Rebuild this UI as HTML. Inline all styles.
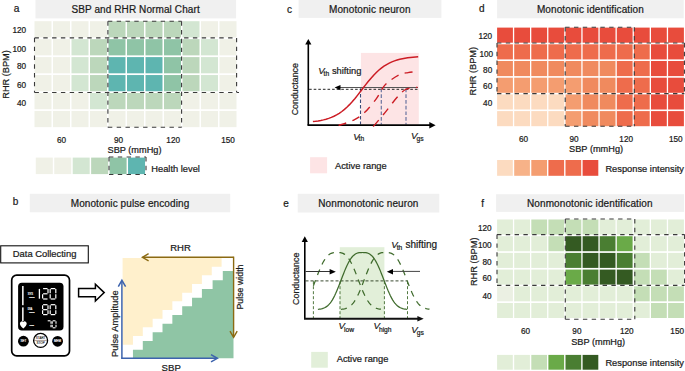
<!DOCTYPE html>
<html><head><meta charset="utf-8"><style>
html,body{margin:0;padding:0;background:#fff;}
body{width:685px;height:371px;overflow:hidden;}
svg{display:block;font-family:"Liberation Sans", sans-serif;}
text{stroke:#1a1a1a;stroke-width:0.22px;}
text.w{stroke:#fff;stroke-width:0.15px;}
</style></head><body>
<svg width="685" height="371" viewBox="0 0 685 371">
<rect width="685" height="371" fill="#fff"/>
<text x="13.80" y="11.70" font-size="10.2" text-anchor="start" fill="#1a1a1a" >a</text>
<rect x="35.50" y="0.00" width="200.60" height="18.40" fill="#f0f0f0" />
<text x="135.60" y="12.70" font-size="10" text-anchor="middle" fill="#1a1a1a" letter-spacing="0.1">SBP and RHR Normal Chart</text>
<rect x="34.50" y="21.20" width="17.00" height="16.20" fill="#f0f1e7" />
<rect x="53.00" y="21.20" width="17.00" height="16.20" fill="#f0f1e7" />
<rect x="71.50" y="21.20" width="17.00" height="16.20" fill="#f0f1e7" />
<rect x="90.00" y="21.20" width="17.00" height="16.20" fill="#f0f1e7" />
<rect x="108.50" y="21.20" width="17.00" height="16.20" fill="#bcd7bb" />
<rect x="127.00" y="21.20" width="17.00" height="16.20" fill="#bcd7bb" />
<rect x="145.50" y="21.20" width="17.00" height="16.20" fill="#bcd7bb" />
<rect x="164.00" y="21.20" width="17.00" height="16.20" fill="#bcd7bb" />
<rect x="182.50" y="21.20" width="17.00" height="16.20" fill="#d3e6d2" />
<rect x="201.00" y="21.20" width="17.00" height="16.20" fill="#f0f1e7" />
<rect x="219.50" y="21.20" width="17.00" height="16.20" fill="#f0f1e7" />
<rect x="34.50" y="39.15" width="17.00" height="16.20" fill="#f0f1e7" />
<rect x="53.00" y="39.15" width="17.00" height="16.20" fill="#f0f1e7" />
<rect x="71.50" y="39.15" width="17.00" height="16.20" fill="#d3e6d2" />
<rect x="90.00" y="39.15" width="17.00" height="16.20" fill="#bcd7bb" />
<rect x="108.50" y="39.15" width="17.00" height="16.20" fill="#8fc4a6" />
<rect x="127.00" y="39.15" width="17.00" height="16.20" fill="#8fc4a6" />
<rect x="145.50" y="39.15" width="17.00" height="16.20" fill="#8fc4a6" />
<rect x="164.00" y="39.15" width="17.00" height="16.20" fill="#8fc4a6" />
<rect x="182.50" y="39.15" width="17.00" height="16.20" fill="#bcd7bb" />
<rect x="201.00" y="39.15" width="17.00" height="16.20" fill="#d3e6d2" />
<rect x="219.50" y="39.15" width="17.00" height="16.20" fill="#f0f1e7" />
<rect x="34.50" y="57.10" width="17.00" height="16.20" fill="#f0f1e7" />
<rect x="53.00" y="57.10" width="17.00" height="16.20" fill="#f0f1e7" />
<rect x="71.50" y="57.10" width="17.00" height="16.20" fill="#d3e6d2" />
<rect x="90.00" y="57.10" width="17.00" height="16.20" fill="#bcd7bb" />
<rect x="108.50" y="57.10" width="17.00" height="16.20" fill="#5eb5b0" />
<rect x="127.00" y="57.10" width="17.00" height="16.20" fill="#5eb5b0" />
<rect x="145.50" y="57.10" width="17.00" height="16.20" fill="#5eb5b0" />
<rect x="164.00" y="57.10" width="17.00" height="16.20" fill="#8fc4a6" />
<rect x="182.50" y="57.10" width="17.00" height="16.20" fill="#bcd7bb" />
<rect x="201.00" y="57.10" width="17.00" height="16.20" fill="#d3e6d2" />
<rect x="219.50" y="57.10" width="17.00" height="16.20" fill="#f0f1e7" />
<rect x="34.50" y="75.05" width="17.00" height="16.20" fill="#f0f1e7" />
<rect x="53.00" y="75.05" width="17.00" height="16.20" fill="#f0f1e7" />
<rect x="71.50" y="75.05" width="17.00" height="16.20" fill="#d3e6d2" />
<rect x="90.00" y="75.05" width="17.00" height="16.20" fill="#bcd7bb" />
<rect x="108.50" y="75.05" width="17.00" height="16.20" fill="#5eb5b0" />
<rect x="127.00" y="75.05" width="17.00" height="16.20" fill="#5eb5b0" />
<rect x="145.50" y="75.05" width="17.00" height="16.20" fill="#5eb5b0" />
<rect x="164.00" y="75.05" width="17.00" height="16.20" fill="#8fc4a6" />
<rect x="182.50" y="75.05" width="17.00" height="16.20" fill="#bcd7bb" />
<rect x="201.00" y="75.05" width="17.00" height="16.20" fill="#d3e6d2" />
<rect x="219.50" y="75.05" width="17.00" height="16.20" fill="#f0f1e7" />
<rect x="34.50" y="93.00" width="17.00" height="16.20" fill="#f0f1e7" />
<rect x="53.00" y="93.00" width="17.00" height="16.20" fill="#f0f1e7" />
<rect x="71.50" y="93.00" width="17.00" height="16.20" fill="#f0f1e7" />
<rect x="90.00" y="93.00" width="17.00" height="16.20" fill="#d3e6d2" />
<rect x="108.50" y="93.00" width="17.00" height="16.20" fill="#bcd7bb" />
<rect x="127.00" y="93.00" width="17.00" height="16.20" fill="#bcd7bb" />
<rect x="145.50" y="93.00" width="17.00" height="16.20" fill="#bcd7bb" />
<rect x="164.00" y="93.00" width="17.00" height="16.20" fill="#bcd7bb" />
<rect x="182.50" y="93.00" width="17.00" height="16.20" fill="#f0f1e7" />
<rect x="201.00" y="93.00" width="17.00" height="16.20" fill="#f0f1e7" />
<rect x="219.50" y="93.00" width="17.00" height="16.20" fill="#f0f1e7" />
<rect x="34.50" y="110.95" width="17.00" height="16.20" fill="#f0f1e7" />
<rect x="53.00" y="110.95" width="17.00" height="16.20" fill="#f0f1e7" />
<rect x="71.50" y="110.95" width="17.00" height="16.20" fill="#f0f1e7" />
<rect x="90.00" y="110.95" width="17.00" height="16.20" fill="#f0f1e7" />
<rect x="108.50" y="110.95" width="17.00" height="16.20" fill="#f0f1e7" />
<rect x="127.00" y="110.95" width="17.00" height="16.20" fill="#f0f1e7" />
<rect x="145.50" y="110.95" width="17.00" height="16.20" fill="#f0f1e7" />
<rect x="164.00" y="110.95" width="17.00" height="16.20" fill="#f0f1e7" />
<rect x="182.50" y="110.95" width="17.00" height="16.20" fill="#f0f1e7" />
<rect x="201.00" y="110.95" width="17.00" height="16.20" fill="#f0f1e7" />
<rect x="219.50" y="110.95" width="17.00" height="16.20" fill="#f0f1e7" />
<line x1="34.50" y1="37.90" x2="236.60" y2="37.90" stroke="#3a3a3a" stroke-width="1.1" stroke-dasharray="4.4 4.4"/>
<line x1="34.50" y1="37.90" x2="34.50" y2="92.50" stroke="#3a3a3a" stroke-width="1.1" stroke-dasharray="4.4 4.4"/>
<line x1="236.60" y1="37.90" x2="236.60" y2="92.50" stroke="#3a3a3a" stroke-width="1.1" stroke-dasharray="4.4 4.4"/>
<line x1="34.50" y1="92.50" x2="239.00" y2="92.50" stroke="#3a3a3a" stroke-width="1.1" stroke-dasharray="4.4 4.4"/>
<line x1="107.90" y1="21.25" x2="181.60" y2="21.25" stroke="#3a3a3a" stroke-width="1.1" stroke-dasharray="4.4 4.4"/>
<line x1="107.90" y1="21.25" x2="107.90" y2="127.30" stroke="#3a3a3a" stroke-width="1.1" stroke-dasharray="4.4 4.4"/>
<line x1="181.60" y1="21.25" x2="181.60" y2="127.30" stroke="#3a3a3a" stroke-width="1.1" stroke-dasharray="4.4 4.4"/>
<line x1="107.90" y1="127.30" x2="181.60" y2="127.30" stroke="#3a3a3a" stroke-width="1.1" stroke-dasharray="4.4 4.4"/>
<text x="26.10" y="32.75" font-size="8.2" text-anchor="end" fill="#1a1a1a" >120</text>
<text x="26.10" y="51.55" font-size="8.2" text-anchor="end" fill="#1a1a1a" >100</text>
<text x="26.10" y="69.05" font-size="8.2" text-anchor="end" fill="#1a1a1a" >80</text>
<text x="26.10" y="87.95" font-size="8.2" text-anchor="end" fill="#1a1a1a" >60</text>
<text x="26.10" y="106.25" font-size="8.2" text-anchor="end" fill="#1a1a1a" >40</text>
<text transform="translate(9.0,74.4) rotate(-90)" font-size="9.2" text-anchor="middle" fill="#1a1a1a">RHR (BPM)</text>
<text x="61.50" y="142.65" font-size="8.2" text-anchor="middle" fill="#1a1a1a" >60</text>
<text x="118.50" y="142.65" font-size="8.2" text-anchor="middle" fill="#1a1a1a" >90</text>
<text x="173.20" y="142.65" font-size="8.2" text-anchor="middle" fill="#1a1a1a" >120</text>
<text x="228.00" y="142.65" font-size="8.2" text-anchor="middle" fill="#1a1a1a" >150</text>
<text x="134.50" y="152.50" font-size="9.2" text-anchor="middle" fill="#1a1a1a" >SBP (mmHg)</text>
<rect x="35.80" y="157.60" width="17.00" height="16.50" fill="#f0f1e7" />
<rect x="54.25" y="157.60" width="17.00" height="16.50" fill="#f0f1e7" />
<rect x="72.70" y="157.60" width="17.00" height="16.50" fill="#d3e6d2" />
<rect x="91.15" y="157.60" width="17.00" height="16.50" fill="#bcd7bb" />
<rect x="109.60" y="157.60" width="17.00" height="16.50" fill="#8fc4a6" />
<rect x="128.05" y="157.60" width="17.00" height="16.50" fill="#5eb5b0" />
<line x1="109.00" y1="157.00" x2="146.00" y2="157.00" stroke="#3a3a3a" stroke-width="1.1" stroke-dasharray="4.4 4.4"/>
<line x1="109.00" y1="157.00" x2="109.00" y2="174.50" stroke="#3a3a3a" stroke-width="1.1" stroke-dasharray="4.4 4.4"/>
<line x1="146.00" y1="157.00" x2="146.00" y2="174.50" stroke="#3a3a3a" stroke-width="1.1" stroke-dasharray="4.4 4.4"/>
<line x1="109.00" y1="174.50" x2="146.00" y2="174.50" stroke="#3a3a3a" stroke-width="1.1" stroke-dasharray="4.4 4.4"/>
<text x="151.30" y="172.20" font-size="9.3" text-anchor="start" fill="#1a1a1a" >Health level</text>
<text x="12.70" y="205.30" font-size="10" text-anchor="start" fill="#1a1a1a" >b</text>
<rect x="29.80" y="193.80" width="200.40" height="18.50" fill="#f0f0f0" />
<text x="130.00" y="206.50" font-size="10" text-anchor="middle" fill="#1a1a1a" letter-spacing="0.1">Monotonic pulse encoding</text>
<rect x="0.7" y="245.8" width="87.6" height="17.1" fill="#fff" stroke="#111" stroke-width="1.1"/>
<text x="44.60" y="257.30" font-size="9.4" text-anchor="middle" fill="#1a1a1a" >Data Collecting</text>
<rect x="11.7" y="275.2" width="57.8" height="80.7" rx="5" fill="#fff" stroke="#000" stroke-width="1.7"/>
<rect x="18.1" y="282.8" width="45.4" height="47.8" rx="3.8" fill="#000"/>
<rect x="22.10" y="286.00" width="1.50" height="19.20" fill="#fff" />
<rect x="22.10" y="307.40" width="1.50" height="13.60" fill="#fff" />
<path d="M23.3,328.4 C21.2,326.8 19.9,325.5 19.9,323.6 C19.9,322.1 21.0,321.2 22.1,321.2 C22.7,321.2 23.1,321.6 23.3,322.1 C23.5,321.6 23.9,321.2 24.5,321.2 C25.6,321.2 26.7,322.1 26.7,323.6 C26.7,325.5 25.4,326.8 23.3,328.4 Z" fill="#fff"/>
<text x="27.8" y="294.8" font-size="2.6" fill="#fff" class="w">SYS</text>
<text x="29.3" y="297.6" font-size="1.8" fill="#fff" class="w">mmHg</text>
<text x="27.8" y="310.0" font-size="2.6" fill="#fff" class="w">DIA</text>
<text x="29.3" y="312.8" font-size="1.8" fill="#fff" class="w">mmHg</text>
<text x="29.5" y="325.5" font-size="1.8" fill="#fff" class="w">Pulse</text>
<line x1="39.40" y1="288.90" x2="39.40" y2="298.70" stroke="#fff" stroke-width="1.3"/>
<line x1="43.10" y1="288.60" x2="47.50" y2="288.60" stroke="#fff" stroke-width="1.2" stroke-linecap="butt"/>
<line x1="48.00" y1="289.10" x2="48.00" y2="293.30" stroke="#fff" stroke-width="1.2" stroke-linecap="butt"/>
<line x1="43.10" y1="293.80" x2="47.50" y2="293.80" stroke="#fff" stroke-width="1.2" stroke-linecap="butt"/>
<line x1="42.60" y1="294.30" x2="42.60" y2="298.50" stroke="#fff" stroke-width="1.2" stroke-linecap="butt"/>
<line x1="43.10" y1="299.00" x2="47.50" y2="299.00" stroke="#fff" stroke-width="1.2" stroke-linecap="butt"/>
<line x1="50.70" y1="288.60" x2="55.30" y2="288.60" stroke="#fff" stroke-width="1.2" stroke-linecap="butt"/>
<line x1="55.80" y1="289.10" x2="55.80" y2="293.30" stroke="#fff" stroke-width="1.2" stroke-linecap="butt"/>
<line x1="55.80" y1="294.30" x2="55.80" y2="298.50" stroke="#fff" stroke-width="1.2" stroke-linecap="butt"/>
<line x1="50.70" y1="299.00" x2="55.30" y2="299.00" stroke="#fff" stroke-width="1.2" stroke-linecap="butt"/>
<line x1="50.20" y1="294.30" x2="50.20" y2="298.50" stroke="#fff" stroke-width="1.2" stroke-linecap="butt"/>
<line x1="50.20" y1="289.10" x2="50.20" y2="293.30" stroke="#fff" stroke-width="1.2" stroke-linecap="butt"/>
<line x1="43.10" y1="304.70" x2="47.50" y2="304.70" stroke="#fff" stroke-width="1.2" stroke-linecap="butt"/>
<line x1="48.00" y1="305.20" x2="48.00" y2="309.15" stroke="#fff" stroke-width="1.2" stroke-linecap="butt"/>
<line x1="48.00" y1="310.15" x2="48.00" y2="314.10" stroke="#fff" stroke-width="1.2" stroke-linecap="butt"/>
<line x1="43.10" y1="314.60" x2="47.50" y2="314.60" stroke="#fff" stroke-width="1.2" stroke-linecap="butt"/>
<line x1="42.60" y1="310.15" x2="42.60" y2="314.10" stroke="#fff" stroke-width="1.2" stroke-linecap="butt"/>
<line x1="42.60" y1="305.20" x2="42.60" y2="309.15" stroke="#fff" stroke-width="1.2" stroke-linecap="butt"/>
<line x1="43.10" y1="309.65" x2="47.50" y2="309.65" stroke="#fff" stroke-width="1.2" stroke-linecap="butt"/>
<line x1="50.70" y1="304.70" x2="55.30" y2="304.70" stroke="#fff" stroke-width="1.2" stroke-linecap="butt"/>
<line x1="55.80" y1="305.20" x2="55.80" y2="309.15" stroke="#fff" stroke-width="1.2" stroke-linecap="butt"/>
<line x1="55.80" y1="310.15" x2="55.80" y2="314.10" stroke="#fff" stroke-width="1.2" stroke-linecap="butt"/>
<line x1="50.70" y1="314.60" x2="55.30" y2="314.60" stroke="#fff" stroke-width="1.2" stroke-linecap="butt"/>
<line x1="50.20" y1="310.15" x2="50.20" y2="314.10" stroke="#fff" stroke-width="1.2" stroke-linecap="butt"/>
<line x1="50.20" y1="305.20" x2="50.20" y2="309.15" stroke="#fff" stroke-width="1.2" stroke-linecap="butt"/>
<line x1="47.70" y1="320.80" x2="50.50" y2="320.80" stroke="#fff" stroke-width="1.1" stroke-linecap="butt"/>
<line x1="51.00" y1="321.30" x2="51.00" y2="323.80" stroke="#fff" stroke-width="1.1" stroke-linecap="butt"/>
<line x1="51.00" y1="324.80" x2="51.00" y2="327.30" stroke="#fff" stroke-width="1.1" stroke-linecap="butt"/>
<line x1="52.70" y1="320.80" x2="55.50" y2="320.80" stroke="#fff" stroke-width="1.1" stroke-linecap="butt"/>
<line x1="56.00" y1="321.30" x2="56.00" y2="323.80" stroke="#fff" stroke-width="1.1" stroke-linecap="butt"/>
<line x1="56.00" y1="324.80" x2="56.00" y2="327.30" stroke="#fff" stroke-width="1.1" stroke-linecap="butt"/>
<line x1="52.70" y1="327.80" x2="55.50" y2="327.80" stroke="#fff" stroke-width="1.1" stroke-linecap="butt"/>
<line x1="52.20" y1="324.80" x2="52.20" y2="327.30" stroke="#fff" stroke-width="1.1" stroke-linecap="butt"/>
<line x1="52.20" y1="321.30" x2="52.20" y2="323.80" stroke="#fff" stroke-width="1.1" stroke-linecap="butt"/>
<circle cx="23.4" cy="341.2" r="5.4" fill="#000"/>
<text x="23.4" y="342.3" font-size="3" text-anchor="middle" fill="#fff" class="w">SET</text>
<circle cx="40.6" cy="340.4" r="7.0" fill="#fff" stroke="#000" stroke-width="1.3"/>
<line x1="34.00" y1="340.40" x2="47.20" y2="340.40" stroke="#5a3a2a" stroke-width="0.5" />
<text x="40.6" y="339.0" font-size="3.0" text-anchor="middle" fill="#111" style="stroke-width:0.1px">START</text>
<text x="40.6" y="344.2" font-size="3.0" text-anchor="middle" fill="#111" style="stroke-width:0.1px">STOP</text>
<circle cx="57.6" cy="341.3" r="5.4" fill="#000"/>
<text x="57.6" y="342.4" font-size="3" text-anchor="middle" fill="#fff" class="w">MEM</text>
<path d="M78.6,288.5 L95.4,288.5 L95.4,284.2 L104.2,292.6 L95.4,301.1 L95.4,296.8 L78.6,296.8 Z" fill="#fff" stroke="#000" stroke-width="1.5" stroke-linejoin="miter"/>
<polygon points="122.60,258.10 221.60,258.10 221.60,266.67 211.75,266.67 211.75,275.34 201.90,275.34 201.90,284.01 192.05,284.01 192.05,292.68 182.20,292.68 182.20,301.35 172.35,301.35 172.35,310.02 162.50,310.02 162.50,318.69 152.65,318.69 152.65,327.36 142.80,327.36 142.80,336.03 132.95,336.03 132.95,344.70 123.10,344.70 122.60,344.70" fill="#fff0cc"/>
<polygon points="132.95,358.20 233.50,358.20 233.50,271.00 222.80,271.00 222.80,280.34 212.60,280.34 212.60,289.01 201.90,289.01 201.90,297.68 192.05,297.68 192.05,306.35 182.20,306.35 182.20,315.02 172.35,315.02 172.35,323.69 162.50,323.69 162.50,332.36 152.65,332.36 152.65,341.03 142.80,341.03 142.80,349.70 132.95,349.70" fill="#8fc5a5"/>
<line x1="121.90" y1="358.30" x2="121.90" y2="281.00" stroke="#3d63ad" stroke-width="1.5" />
<line x1="121.10" y1="358.30" x2="217.00" y2="358.30" stroke="#3d63ad" stroke-width="1.5" />
<polyline points="118.3,286.6 121.9,280.3 125.6,286.6" fill="none" stroke="#3d63ad" stroke-width="1.5"/>
<polyline points="211.0,354.7 217.4,358.3 211.0,361.9" fill="none" stroke="#3d63ad" stroke-width="1.5"/>
<line x1="233.60" y1="257.30" x2="142.80" y2="257.30" stroke="#8b6a12" stroke-width="1.4" />
<line x1="233.60" y1="256.60" x2="233.60" y2="336.80" stroke="#8b6a12" stroke-width="1.4" />
<polyline points="148.6,253.7 142.4,257.3 148.6,260.9" fill="none" stroke="#8b6a12" stroke-width="1.4"/>
<polyline points="230.0,331.2 233.6,337.4 237.2,331.2" fill="none" stroke="#8b6a12" stroke-width="1.4"/>
<text x="180.50" y="250.60" font-size="9.5" text-anchor="middle" fill="#1a1a1a" >RHR</text>
<text x="171.20" y="370.90" font-size="9.6" text-anchor="middle" fill="#1a1a1a" >SBP</text>
<text transform="translate(117.8,323.7) rotate(-90)" font-size="9.3" text-anchor="middle" fill="#1a1a1a">Pulse Amplitude</text>
<text transform="translate(243.0,287.0) rotate(-90)" font-size="8.8" text-anchor="middle" fill="#1a1a1a">Pulse width</text>
<text x="286.90" y="12.60" font-size="10" text-anchor="start" fill="#1a1a1a" >c</text>
<rect x="298.60" y="0.00" width="142.80" height="17.90" fill="#f0f0f0" />
<text x="369.80" y="12.60" font-size="10" text-anchor="middle" fill="#1a1a1a" letter-spacing="0.1">Monotonic neuron</text>
<rect x="360.9" y="52.9" width="57.9" height="71.4" fill="#fde4e5"/>
<line x1="360.50" y1="88.60" x2="360.50" y2="124.50" stroke="#3a4a78" stroke-width="1.1" stroke-dasharray="3.5 2"/>
<line x1="381.30" y1="88.60" x2="381.30" y2="124.50" stroke="#6a74a0" stroke-width="1.2" stroke-dasharray="3.7 2"/>
<line x1="406.00" y1="88.60" x2="406.00" y2="124.50" stroke="#6a74a0" stroke-width="1.2" stroke-dasharray="3.7 2"/>
<line x1="308.30" y1="125.20" x2="308.30" y2="44.00" stroke="#000" stroke-width="1.6" />
<path d="M305.2,44.5 L308.3,38.9 L311.4,44.5 Z" fill="#000"/>
<line x1="307.50" y1="125.20" x2="430.00" y2="125.20" stroke="#000" stroke-width="1.8" />
<path d="M429.3,121.9 L435.6,125.2 L429.3,128.5 Z" fill="#000"/>
<line x1="309.10" y1="89.30" x2="418.00" y2="89.30" stroke="#222" stroke-width="1.0" stroke-dasharray="2.6 2"/>
<line x1="338.50" y1="87.50" x2="418.00" y2="87.50" stroke="#555" stroke-width="1.0" />
<path d="M334.6,87.6 L340.5,84.9 L340.5,90.3 Z" fill="#000"/>
<path d="M312.90,121.58 L315.53,121.27 L318.16,120.89 L320.80,120.42 L323.43,119.86 L326.06,119.19 L328.69,118.38 L331.33,117.41 L333.96,116.26 L336.59,114.91 L339.22,113.33 L341.86,111.50 L344.49,109.40 L347.12,107.04 L349.75,104.40 L352.39,101.52 L355.02,98.41 L357.65,95.14 L360.28,91.74 L362.92,88.30 L365.55,84.88 L368.18,81.56 L370.81,78.40 L373.45,75.44 L376.08,72.73 L378.71,70.29 L381.34,68.11 L383.98,66.20 L386.61,64.55 L389.24,63.13 L391.88,61.92 L394.51,60.90 L397.14,60.04 L399.77,59.33 L402.40,58.74 L405.04,58.24 L407.67,57.84 L410.30,57.50 L412.94,57.23 L415.57,57.00 L418.20,56.82" fill="none" stroke="#cc1c24" stroke-width="1.5"/>
<path d="M338.60,125.50 C341.12,124.60 349.38,122.25 353.70,120.10 C358.02,117.95 360.72,116.18 364.50,112.60 C368.28,109.02 373.52,102.45 376.40,98.60 C379.28,94.75 380.00,92.13 381.80,89.50 C383.60,86.87 384.32,85.25 387.20,82.80 C390.08,80.35 395.63,76.50 399.10,74.80 C402.57,73.10 404.95,73.13 408.00,72.60 C411.05,72.07 415.83,71.77 417.40,71.60" fill="none" stroke="#cc1c24" stroke-width="1.4" stroke-dasharray="8 6.5"/>
<path d="M373.20,126.60 C375.17,124.27 381.05,117.45 385.00,112.60 C388.95,107.75 393.48,101.35 396.90,97.50 C400.32,93.65 402.80,91.12 405.50,89.50 C408.20,87.88 411.12,88.17 413.10,87.80 C415.08,87.43 416.68,87.38 417.40,87.30" fill="none" stroke="#cc1c24" stroke-width="1.4" stroke-dasharray="8.5 6.5"/>
<text x="318.20" y="73.70" font-size="9.6" fill="#1a1a1a"><tspan font-style="italic">V</tspan><tspan font-size="6.7" dx="-1.0" dy="2.2">th</tspan></text>
<text x="331.90" y="73.70" font-size="9.3" text-anchor="start" fill="#1a1a1a" >shifting</text>
<text x="353.20" y="139.60" font-size="9.6" fill="#1a1a1a"><tspan font-style="italic">V</tspan><tspan font-size="6.7" dx="-1.0" dy="1.8">th</tspan></text>
<text x="411.00" y="139.20" font-size="9.6" fill="#1a1a1a"><tspan font-style="italic">V</tspan><tspan font-size="6.7" dx="-1.0" dy="1.8">gs</tspan></text>
<text transform="translate(298.4,89.2) rotate(-90)" font-size="8.9" text-anchor="middle" fill="#1a1a1a">Conductance</text>
<rect x="310.10" y="157.20" width="17.00" height="16.10" fill="#fde4e5" />
<text x="335.00" y="169.20" font-size="9.3" text-anchor="start" fill="#1a1a1a" >Active range</text>
<text x="479.00" y="12.40" font-size="10" text-anchor="start" fill="#1a1a1a" >d</text>
<rect x="497.10" y="0.00" width="186.60" height="18.30" fill="#f0f0f0" />
<text x="590.40" y="12.70" font-size="10" text-anchor="middle" fill="#1a1a1a" letter-spacing="0.1">Monotonic identification</text>
<rect x="497.10" y="27.60" width="15.80" height="15.10" fill="#e84c3c" />
<rect x="514.20" y="27.60" width="15.80" height="15.10" fill="#e84c3c" />
<rect x="531.30" y="27.60" width="15.80" height="15.10" fill="#e84c3c" />
<rect x="548.40" y="27.60" width="15.80" height="15.10" fill="#e84c3c" />
<rect x="565.50" y="27.60" width="15.80" height="15.10" fill="#e84c3c" />
<rect x="582.60" y="27.60" width="15.80" height="15.10" fill="#e84c3c" />
<rect x="599.70" y="27.60" width="15.80" height="15.10" fill="#e84c3c" />
<rect x="616.80" y="27.60" width="15.80" height="15.10" fill="#e84c3c" />
<rect x="633.90" y="27.60" width="15.80" height="15.10" fill="#e84c3c" />
<rect x="651.00" y="27.60" width="15.80" height="15.10" fill="#e84c3c" />
<rect x="668.10" y="27.60" width="15.80" height="15.10" fill="#e84c3c" />
<rect x="497.10" y="44.30" width="15.80" height="15.10" fill="#ee6c4c" />
<rect x="514.20" y="44.30" width="15.80" height="15.10" fill="#ee6c4c" />
<rect x="531.30" y="44.30" width="15.80" height="15.10" fill="#ee6c4c" />
<rect x="548.40" y="44.30" width="15.80" height="15.10" fill="#ee6c4c" />
<rect x="565.50" y="44.30" width="15.80" height="15.10" fill="#ee6c4c" />
<rect x="582.60" y="44.30" width="15.80" height="15.10" fill="#ee6c4c" />
<rect x="599.70" y="44.30" width="15.80" height="15.10" fill="#ee6c4c" />
<rect x="616.80" y="44.30" width="15.80" height="15.10" fill="#ee6c4c" />
<rect x="633.90" y="44.30" width="15.80" height="15.10" fill="#ee6c4c" />
<rect x="651.00" y="44.30" width="15.80" height="15.10" fill="#e84c3c" />
<rect x="668.10" y="44.30" width="15.80" height="15.10" fill="#e84c3c" />
<rect x="497.10" y="61.00" width="15.80" height="15.10" fill="#f08a5e" />
<rect x="514.20" y="61.00" width="15.80" height="15.10" fill="#f08a5e" />
<rect x="531.30" y="61.00" width="15.80" height="15.10" fill="#f08a5e" />
<rect x="548.40" y="61.00" width="15.80" height="15.10" fill="#f08a5e" />
<rect x="565.50" y="61.00" width="15.80" height="15.10" fill="#f08a5e" />
<rect x="582.60" y="61.00" width="15.80" height="15.10" fill="#f08a5e" />
<rect x="599.70" y="61.00" width="15.80" height="15.10" fill="#f08a5e" />
<rect x="616.80" y="61.00" width="15.80" height="15.10" fill="#ee6c4c" />
<rect x="633.90" y="61.00" width="15.80" height="15.10" fill="#ee6c4c" />
<rect x="651.00" y="61.00" width="15.80" height="15.10" fill="#e84c3c" />
<rect x="668.10" y="61.00" width="15.80" height="15.10" fill="#e84c3c" />
<rect x="497.10" y="77.70" width="15.80" height="15.10" fill="#f49d70" />
<rect x="514.20" y="77.70" width="15.80" height="15.10" fill="#f49d70" />
<rect x="531.30" y="77.70" width="15.80" height="15.10" fill="#f49d70" />
<rect x="548.40" y="77.70" width="15.80" height="15.10" fill="#f49d70" />
<rect x="565.50" y="77.70" width="15.80" height="15.10" fill="#f49d70" />
<rect x="582.60" y="77.70" width="15.80" height="15.10" fill="#f08a5e" />
<rect x="599.70" y="77.70" width="15.80" height="15.10" fill="#f08a5e" />
<rect x="616.80" y="77.70" width="15.80" height="15.10" fill="#ee6c4c" />
<rect x="633.90" y="77.70" width="15.80" height="15.10" fill="#ee6c4c" />
<rect x="651.00" y="77.70" width="15.80" height="15.10" fill="#e84c3c" />
<rect x="668.10" y="77.70" width="15.80" height="15.10" fill="#e84c3c" />
<rect x="497.10" y="94.40" width="15.80" height="15.10" fill="#fcdbc0" />
<rect x="514.20" y="94.40" width="15.80" height="15.10" fill="#fcdbc0" />
<rect x="531.30" y="94.40" width="15.80" height="15.10" fill="#fcdbc0" />
<rect x="548.40" y="94.40" width="15.80" height="15.10" fill="#fcdbc0" />
<rect x="565.50" y="94.40" width="15.80" height="15.10" fill="#f49d70" />
<rect x="582.60" y="94.40" width="15.80" height="15.10" fill="#f08a5e" />
<rect x="599.70" y="94.40" width="15.80" height="15.10" fill="#f08a5e" />
<rect x="616.80" y="94.40" width="15.80" height="15.10" fill="#ee6c4c" />
<rect x="633.90" y="94.40" width="15.80" height="15.10" fill="#ee6c4c" />
<rect x="651.00" y="94.40" width="15.80" height="15.10" fill="#e84c3c" />
<rect x="668.10" y="94.40" width="15.80" height="15.10" fill="#e84c3c" />
<rect x="497.10" y="111.10" width="15.80" height="15.10" fill="#fcdbc0" />
<rect x="514.20" y="111.10" width="15.80" height="15.10" fill="#fcdbc0" />
<rect x="531.30" y="111.10" width="15.80" height="15.10" fill="#fcdbc0" />
<rect x="548.40" y="111.10" width="15.80" height="15.10" fill="#fcdbc0" />
<rect x="565.50" y="111.10" width="15.80" height="15.10" fill="#f49d70" />
<rect x="582.60" y="111.10" width="15.80" height="15.10" fill="#f08a5e" />
<rect x="599.70" y="111.10" width="15.80" height="15.10" fill="#f08a5e" />
<rect x="616.80" y="111.10" width="15.80" height="15.10" fill="#ee6c4c" />
<rect x="633.90" y="111.10" width="15.80" height="15.10" fill="#ee6c4c" />
<rect x="651.00" y="111.10" width="15.80" height="15.10" fill="#e84c3c" />
<rect x="668.10" y="111.10" width="15.80" height="15.10" fill="#e84c3c" />
<line x1="497.00" y1="43.00" x2="684.40" y2="43.00" stroke="#3a3a3a" stroke-width="1.1" stroke-dasharray="4.4 4.4"/>
<line x1="497.00" y1="43.00" x2="497.00" y2="93.60" stroke="#3a3a3a" stroke-width="1.1" stroke-dasharray="4.4 4.4"/>
<line x1="684.40" y1="43.00" x2="684.40" y2="93.60" stroke="#3a3a3a" stroke-width="1.1" stroke-dasharray="4.4 4.4"/>
<line x1="497.00" y1="93.60" x2="684.40" y2="93.60" stroke="#3a3a3a" stroke-width="1.1" stroke-dasharray="4.4 4.4"/>
<line x1="565.20" y1="27.20" x2="634.30" y2="27.20" stroke="#3a3a3a" stroke-width="1.1" stroke-dasharray="4.4 4.4"/>
<line x1="565.20" y1="27.20" x2="565.20" y2="126.20" stroke="#3a3a3a" stroke-width="1.1" stroke-dasharray="4.4 4.4"/>
<line x1="634.30" y1="27.20" x2="634.30" y2="126.20" stroke="#3a3a3a" stroke-width="1.1" stroke-dasharray="4.4 4.4"/>
<line x1="565.20" y1="126.20" x2="634.30" y2="126.20" stroke="#3a3a3a" stroke-width="1.1" stroke-dasharray="4.4 4.4"/>
<text x="492.20" y="38.65" font-size="8.2" text-anchor="end" fill="#1a1a1a" >120</text>
<text x="493.20" y="56.95" font-size="8.2" text-anchor="end" fill="#1a1a1a" >100</text>
<text x="492.20" y="72.55" font-size="8.2" text-anchor="end" fill="#1a1a1a" >80</text>
<text x="492.20" y="89.05" font-size="8.2" text-anchor="end" fill="#1a1a1a" >60</text>
<text x="492.20" y="106.25" font-size="8.2" text-anchor="end" fill="#1a1a1a" >40</text>
<text transform="translate(476.3,71.2) rotate(-90)" font-size="9.2" text-anchor="middle" fill="#1a1a1a">RHR (BPM)</text>
<text x="523.60" y="141.65" font-size="8.2" text-anchor="middle" fill="#1a1a1a" >60</text>
<text x="574.00" y="141.65" font-size="8.2" text-anchor="middle" fill="#1a1a1a" >90</text>
<text x="626.20" y="141.65" font-size="8.2" text-anchor="middle" fill="#1a1a1a" >120</text>
<text x="675.80" y="141.65" font-size="8.2" text-anchor="middle" fill="#1a1a1a" >150</text>
<text x="596.10" y="151.70" font-size="9.2" text-anchor="middle" fill="#1a1a1a" >SBP (mmHg)</text>
<rect x="497.10" y="160.00" width="15.70" height="15.80" fill="#fcdbc0" />
<rect x="514.20" y="160.00" width="15.70" height="15.80" fill="#f7b288" />
<rect x="531.30" y="160.00" width="15.70" height="15.80" fill="#f49d70" />
<rect x="548.40" y="160.00" width="15.70" height="15.80" fill="#ee6c4c" />
<rect x="565.50" y="160.00" width="15.70" height="15.80" fill="#ee6c4c" />
<rect x="582.60" y="160.00" width="15.70" height="15.80" fill="#e84c3c" />
<text x="605.40" y="171.80" font-size="9.3" text-anchor="start" fill="#1a1a1a" >Response intensity</text>
<text x="283.20" y="206.60" font-size="10" text-anchor="start" fill="#1a1a1a" >e</text>
<rect x="297.70" y="193.80" width="141.60" height="18.70" fill="#f0f0f0" />
<text x="368.40" y="206.90" font-size="10" text-anchor="middle" fill="#1a1a1a" letter-spacing="0.1">Nonmonotonic neuron</text>
<rect x="339.8" y="247.2" width="44.6" height="70.6" fill="#e2efd9"/>
<line x1="313.40" y1="281.20" x2="313.40" y2="318.00" stroke="#3f6b2c" stroke-width="0.9" stroke-dasharray="3 2"/>
<line x1="340.00" y1="281.20" x2="340.00" y2="318.00" stroke="#3f6b2c" stroke-width="0.9" stroke-dasharray="3 2"/>
<line x1="384.40" y1="281.20" x2="384.40" y2="318.00" stroke="#3f6b2c" stroke-width="0.9" stroke-dasharray="3 2"/>
<line x1="407.50" y1="281.20" x2="407.50" y2="318.00" stroke="#3f6b2c" stroke-width="0.9" stroke-dasharray="3 2"/>
<line x1="305.50" y1="280.90" x2="407.50" y2="280.90" stroke="#3a4a30" stroke-width="1.0" stroke-dasharray="3 2"/>
<path d="M317.90,309.28 L319.01,309.17 L320.13,309.02 L321.25,308.82 L322.36,308.54 L323.47,308.18 L324.59,307.72 L325.70,307.12 L326.82,306.38 L327.94,305.47 L329.05,304.38 L330.16,303.08 L331.28,301.57 L332.39,299.84 L333.51,297.89 L334.62,295.72 L335.74,293.36 L336.85,290.81 L337.97,288.11 L339.08,285.29 L340.20,282.40 L341.31,279.47 L342.43,276.54 L343.55,273.66 L344.66,270.88 L345.77,268.23 L346.89,265.74 L348.00,263.44 L349.12,261.36 L350.24,259.51 L351.35,257.90 L352.46,256.53 L353.58,255.40 L354.69,254.48 L355.81,253.78 L356.93,253.26 L358.04,252.90 L359.15,252.67 L360.27,252.55 L361.38,252.51 L362.50,252.50 L363.62,252.51 L364.73,252.55 L365.85,252.67 L366.96,252.90 L368.07,253.26 L369.19,253.78 L370.31,254.48 L371.42,255.40 L372.54,256.53 L373.65,257.90 L374.76,259.51 L375.88,261.36 L377.00,263.44 L378.11,265.74 L379.23,268.23 L380.34,270.88 L381.45,273.66 L382.57,276.54 L383.69,279.47 L384.80,282.40 L385.92,285.29 L387.03,288.11 L388.14,290.81 L389.26,293.36 L390.38,295.72 L391.49,297.89 L392.61,299.84 L393.72,301.57 L394.84,303.08 L395.95,304.38 L397.07,305.47 L398.18,306.38 L399.30,307.12 L400.41,307.72 L401.53,308.18 L402.64,308.54 L403.75,308.82 L404.87,309.02 L405.99,309.17 L407.10,309.28" fill="none" stroke="#3f6b2c" stroke-width="1.25"/>
<path d="M313.40,285.77 L314.25,283.59 L315.09,281.37 L315.94,279.15 L316.78,276.93 L317.62,274.74 L318.47,272.59 L319.31,270.50 L320.16,268.49 L321.00,266.58 L321.85,264.77 L322.69,263.07 L323.54,261.50 L324.38,260.07 L325.23,258.77 L326.07,257.61 L326.92,256.58 L327.76,255.69 L328.61,254.94 L329.45,254.30 L330.30,253.78 L331.14,253.37 L331.99,253.06 L332.83,252.83 L333.68,252.67 L334.52,252.57 L335.37,252.52 L336.21,252.50 L337.06,252.50 L337.90,252.50 L338.75,252.53 L339.59,252.58 L340.44,252.69 L341.28,252.85 L342.13,253.09 L342.97,253.42 L343.82,253.85 L344.66,254.38 L345.51,255.04 L346.36,255.81 L347.20,256.72 L348.04,257.76 L348.89,258.95 L349.74,260.26 L350.58,261.72 L351.43,263.31 L352.27,265.02 L353.12,266.84 L353.96,268.77 L354.81,270.79 L355.65,272.89 L356.50,275.05 L357.34,277.24 L358.19,279.47 L359.03,281.69 L359.88,283.90 L360.72,286.07 L361.56,288.20 L362.41,290.25 L363.25,292.22 L364.10,294.10 L364.94,295.86 L365.79,297.52 L366.63,299.04 L367.48,300.45 L368.32,301.72 L369.17,302.87 L370.01,303.90 L370.86,304.80 L371.70,305.60 L372.55,306.28 L373.39,306.87 L374.24,307.38 L375.08,307.80 L375.93,308.15 L376.77,308.44 L377.62,308.67 L378.47,308.86 L379.31,309.01 L380.15,309.13 L381.00,309.23" fill="none" stroke="#3f6b2c" stroke-width="1.25" stroke-dasharray="6 5.5"/>
<path d="M341.00,309.27 L342.11,309.16 L343.21,309.01 L344.32,308.80 L345.43,308.53 L346.53,308.16 L347.64,307.69 L348.74,307.10 L349.85,306.36 L350.96,305.45 L352.06,304.36 L353.17,303.08 L354.27,301.58 L355.38,299.86 L356.49,297.93 L357.59,295.79 L358.70,293.44 L359.81,290.92 L360.91,288.25 L362.02,285.46 L363.12,282.60 L364.23,279.69 L365.34,276.78 L366.44,273.92 L367.55,271.15 L368.66,268.50 L369.76,266.01 L370.87,263.71 L371.98,261.62 L373.08,259.76 L374.19,258.12 L375.29,256.73 L376.40,255.56 L377.51,254.62 L378.61,253.89 L379.72,253.34 L380.82,252.95 L381.93,252.71 L383.04,252.57 L384.14,252.51 L385.25,252.50 L386.36,252.50 L387.46,252.54 L388.57,252.63 L389.68,252.83 L390.78,253.15 L391.89,253.62 L392.99,254.27 L394.10,255.11 L395.21,256.17 L396.31,257.46 L397.42,258.99 L398.52,260.75 L399.63,262.74 L400.74,264.95 L401.84,267.35 L402.95,269.93 L404.06,272.65 L405.16,275.48 L406.27,278.37 L407.38,281.28 L408.48,284.18 L409.59,287.01 L410.69,289.73 L411.80,292.33 L412.91,294.75 L414.01,296.99 L415.12,299.02 L416.23,300.83 L417.33,302.43 L418.44,303.81 L419.54,304.98 L420.65,305.97 L421.76,306.78 L422.86,307.44 L423.97,307.96 L425.07,308.37 L426.18,308.69 L427.29,308.92 L428.39,309.10 L429.50,309.23" fill="none" stroke="#3f6b2c" stroke-width="1.25" stroke-dasharray="6 5.5"/>
<line x1="304.80" y1="318.60" x2="304.80" y2="241.50" stroke="#000" stroke-width="1.6" />
<path d="M301.7,241.9 L304.8,236.3 L307.9,241.9 Z" fill="#000"/>
<line x1="304.00" y1="318.80" x2="418.50" y2="318.80" stroke="#111" stroke-width="1.9" />
<path d="M417.4,316.0 L423.7,318.8 L417.4,321.6 Z" fill="#111"/>
<line x1="305.50" y1="271.50" x2="330.00" y2="271.50" stroke="#333" stroke-width="1.0" />
<path d="M335.8,271.7 L329.6,268.9 L329.6,274.5 Z" fill="#000"/>
<line x1="392.50" y1="271.40" x2="420.00" y2="271.40" stroke="#444" stroke-width="1.0" />
<path d="M386.8,271.7 L393.0,268.9 L393.0,274.5 Z" fill="#000"/>
<text x="391.30" y="247.90" font-size="9.6" fill="#1a1a1a"><tspan font-style="italic">V</tspan><tspan font-size="6.7" dx="-1.0" dy="2.5">th</tspan></text>
<text x="405.50" y="247.90" font-size="10" text-anchor="start" fill="#1a1a1a" >shifting</text>
<text x="338.60" y="329.40" font-size="9.6" fill="#1a1a1a"><tspan font-style="italic">V</tspan><tspan font-size="6.7" dx="-1.0" dy="2.2">low</tspan></text>
<text x="373.50" y="329.40" font-size="9.6" fill="#1a1a1a"><tspan font-style="italic">V</tspan><tspan font-size="6.7" dx="-1.0" dy="2.2">high</tspan></text>
<text x="411.30" y="333.00" font-size="9.6" fill="#1a1a1a"><tspan font-style="italic">V</tspan><tspan font-size="6.7" dx="-1.0" dy="2.2">gs</tspan></text>
<text transform="translate(299.0,278.8) rotate(-90)" font-size="8.9" text-anchor="middle" fill="#1a1a1a">Conductance</text>
<rect x="311.20" y="351.90" width="16.60" height="15.80" fill="#e2efd9" />
<text x="336.70" y="362.30" font-size="9.3" text-anchor="start" fill="#1a1a1a" >Active range</text>
<text x="481.20" y="206.60" font-size="10" text-anchor="start" fill="#1a1a1a" >f</text>
<rect x="496.10" y="194.20" width="188.00" height="17.70" fill="#f0f0f0" />
<text x="589.80" y="206.80" font-size="10" text-anchor="middle" fill="#1a1a1a" letter-spacing="0.1">Nonmonotonic identification</text>
<rect x="497.10" y="219.50" width="15.80" height="15.00" fill="#e2eed8" />
<rect x="514.20" y="219.50" width="15.80" height="15.00" fill="#e2eed8" />
<rect x="531.30" y="219.50" width="15.80" height="15.00" fill="#c4deb6" />
<rect x="548.40" y="219.50" width="15.80" height="15.00" fill="#c4deb6" />
<rect x="565.50" y="219.50" width="15.80" height="15.00" fill="#c4deb6" />
<rect x="582.60" y="219.50" width="15.80" height="15.00" fill="#c4deb6" />
<rect x="599.70" y="219.50" width="15.80" height="15.00" fill="#e2eed8" />
<rect x="616.80" y="219.50" width="15.80" height="15.00" fill="#e2eed8" />
<rect x="633.90" y="219.50" width="15.80" height="15.00" fill="#e2eed8" />
<rect x="651.00" y="219.50" width="15.80" height="15.00" fill="#e2eed8" />
<rect x="668.10" y="219.50" width="15.80" height="15.00" fill="#e2eed8" />
<rect x="497.10" y="236.20" width="15.80" height="15.00" fill="#e2eed8" />
<rect x="514.20" y="236.20" width="15.80" height="15.00" fill="#e2eed8" />
<rect x="531.30" y="236.20" width="15.80" height="15.00" fill="#e2eed8" />
<rect x="548.40" y="236.20" width="15.80" height="15.00" fill="#c4deb6" />
<rect x="565.50" y="236.20" width="15.80" height="15.00" fill="#345a22" />
<rect x="582.60" y="236.20" width="15.80" height="15.00" fill="#345a22" />
<rect x="599.70" y="236.20" width="15.80" height="15.00" fill="#4a7e32" />
<rect x="616.80" y="236.20" width="15.80" height="15.00" fill="#6aaa48" />
<rect x="633.90" y="236.20" width="15.80" height="15.00" fill="#e2eed8" />
<rect x="651.00" y="236.20" width="15.80" height="15.00" fill="#e2eed8" />
<rect x="668.10" y="236.20" width="15.80" height="15.00" fill="#e2eed8" />
<rect x="497.10" y="252.90" width="15.80" height="15.00" fill="#e2eed8" />
<rect x="514.20" y="252.90" width="15.80" height="15.00" fill="#e2eed8" />
<rect x="531.30" y="252.90" width="15.80" height="15.00" fill="#e2eed8" />
<rect x="548.40" y="252.90" width="15.80" height="15.00" fill="#e2eed8" />
<rect x="565.50" y="252.90" width="15.80" height="15.00" fill="#4a7e32" />
<rect x="582.60" y="252.90" width="15.80" height="15.00" fill="#345a22" />
<rect x="599.70" y="252.90" width="15.80" height="15.00" fill="#345a22" />
<rect x="616.80" y="252.90" width="15.80" height="15.00" fill="#4a7e32" />
<rect x="633.90" y="252.90" width="15.80" height="15.00" fill="#c4deb6" />
<rect x="651.00" y="252.90" width="15.80" height="15.00" fill="#e2eed8" />
<rect x="668.10" y="252.90" width="15.80" height="15.00" fill="#e2eed8" />
<rect x="497.10" y="269.60" width="15.80" height="15.00" fill="#e2eed8" />
<rect x="514.20" y="269.60" width="15.80" height="15.00" fill="#e2eed8" />
<rect x="531.30" y="269.60" width="15.80" height="15.00" fill="#e2eed8" />
<rect x="548.40" y="269.60" width="15.80" height="15.00" fill="#e2eed8" />
<rect x="565.50" y="269.60" width="15.80" height="15.00" fill="#6aaa48" />
<rect x="582.60" y="269.60" width="15.80" height="15.00" fill="#4a7e32" />
<rect x="599.70" y="269.60" width="15.80" height="15.00" fill="#345a22" />
<rect x="616.80" y="269.60" width="15.80" height="15.00" fill="#345a22" />
<rect x="633.90" y="269.60" width="15.80" height="15.00" fill="#c4deb6" />
<rect x="651.00" y="269.60" width="15.80" height="15.00" fill="#c4deb6" />
<rect x="668.10" y="269.60" width="15.80" height="15.00" fill="#e2eed8" />
<rect x="497.10" y="286.30" width="15.80" height="15.00" fill="#ebf0e3" />
<rect x="514.20" y="286.30" width="15.80" height="15.00" fill="#e2eed8" />
<rect x="531.30" y="286.30" width="15.80" height="15.00" fill="#e2eed8" />
<rect x="548.40" y="286.30" width="15.80" height="15.00" fill="#e2eed8" />
<rect x="565.50" y="286.30" width="15.80" height="15.00" fill="#e2eed8" />
<rect x="582.60" y="286.30" width="15.80" height="15.00" fill="#e2eed8" />
<rect x="599.70" y="286.30" width="15.80" height="15.00" fill="#e2eed8" />
<rect x="616.80" y="286.30" width="15.80" height="15.00" fill="#e2eed8" />
<rect x="633.90" y="286.30" width="15.80" height="15.00" fill="#c4deb6" />
<rect x="651.00" y="286.30" width="15.80" height="15.00" fill="#c4deb6" />
<rect x="668.10" y="286.30" width="15.80" height="15.00" fill="#c4deb6" />
<rect x="497.10" y="303.00" width="15.80" height="15.00" fill="#e2eed8" />
<rect x="514.20" y="303.00" width="15.80" height="15.00" fill="#e2eed8" />
<rect x="531.30" y="303.00" width="15.80" height="15.00" fill="#e2eed8" />
<rect x="548.40" y="303.00" width="15.80" height="15.00" fill="#e2eed8" />
<rect x="565.50" y="303.00" width="15.80" height="15.00" fill="#e2eed8" />
<rect x="582.60" y="303.00" width="15.80" height="15.00" fill="#e2eed8" />
<rect x="599.70" y="303.00" width="15.80" height="15.00" fill="#e2eed8" />
<rect x="616.80" y="303.00" width="15.80" height="15.00" fill="#e2eed8" />
<rect x="633.90" y="303.00" width="15.80" height="15.00" fill="#e2eed8" />
<rect x="651.00" y="303.00" width="15.80" height="15.00" fill="#c4deb6" />
<rect x="668.10" y="303.00" width="15.80" height="15.00" fill="#c4deb6" />
<line x1="497.00" y1="234.60" x2="684.60" y2="234.60" stroke="#3a3a3a" stroke-width="1.1" stroke-dasharray="4.4 4.4"/>
<line x1="497.00" y1="234.60" x2="497.00" y2="285.40" stroke="#3a3a3a" stroke-width="1.1" stroke-dasharray="4.4 4.4"/>
<line x1="684.60" y1="234.60" x2="684.60" y2="285.40" stroke="#3a3a3a" stroke-width="1.1" stroke-dasharray="4.4 4.4"/>
<line x1="497.00" y1="285.40" x2="684.60" y2="285.40" stroke="#3a3a3a" stroke-width="1.1" stroke-dasharray="4.4 4.4"/>
<line x1="565.30" y1="219.00" x2="634.80" y2="219.00" stroke="#3a3a3a" stroke-width="1.1" stroke-dasharray="4.4 4.4"/>
<line x1="565.30" y1="219.00" x2="565.30" y2="319.20" stroke="#3a3a3a" stroke-width="1.1" stroke-dasharray="4.4 4.4"/>
<line x1="634.80" y1="219.00" x2="634.80" y2="319.20" stroke="#3a3a3a" stroke-width="1.1" stroke-dasharray="4.4 4.4"/>
<line x1="565.30" y1="319.20" x2="634.80" y2="319.20" stroke="#3a3a3a" stroke-width="1.1" stroke-dasharray="4.4 4.4"/>
<text x="491.60" y="231.15" font-size="8.2" text-anchor="end" fill="#1a1a1a" >120</text>
<text x="491.60" y="248.15" font-size="8.2" text-anchor="end" fill="#1a1a1a" >100</text>
<text x="491.60" y="264.85" font-size="8.2" text-anchor="end" fill="#1a1a1a" >80</text>
<text x="491.60" y="280.95" font-size="8.2" text-anchor="end" fill="#1a1a1a" >60</text>
<text x="491.60" y="299.05" font-size="8.2" text-anchor="end" fill="#1a1a1a" >40</text>
<text transform="translate(477.1,261.8) rotate(-90)" font-size="9.2" text-anchor="middle" fill="#1a1a1a">RHR (BPM)</text>
<text x="525.60" y="333.65" font-size="8.2" text-anchor="middle" fill="#1a1a1a" >60</text>
<text x="576.90" y="333.65" font-size="8.2" text-anchor="middle" fill="#1a1a1a" >90</text>
<text x="626.80" y="333.65" font-size="8.2" text-anchor="middle" fill="#1a1a1a" >120</text>
<text x="677.20" y="333.65" font-size="8.2" text-anchor="middle" fill="#1a1a1a" >150</text>
<text x="598.20" y="345.40" font-size="9.2" text-anchor="middle" fill="#1a1a1a" >SBP (mmHg)</text>
<rect x="497.10" y="354.90" width="15.70" height="14.80" fill="#e2eed8" />
<rect x="514.20" y="354.90" width="15.70" height="14.80" fill="#e2eed8" />
<rect x="531.30" y="354.90" width="15.70" height="14.80" fill="#c4deb6" />
<rect x="548.40" y="354.90" width="15.70" height="14.80" fill="#6aaa48" />
<rect x="565.50" y="354.90" width="15.70" height="14.80" fill="#4a7e32" />
<rect x="582.60" y="354.90" width="15.70" height="14.80" fill="#345a22" />
<text x="605.40" y="366.00" font-size="9.3" text-anchor="start" fill="#1a1a1a" >Response intensity</text>
</svg>
</body></html>
